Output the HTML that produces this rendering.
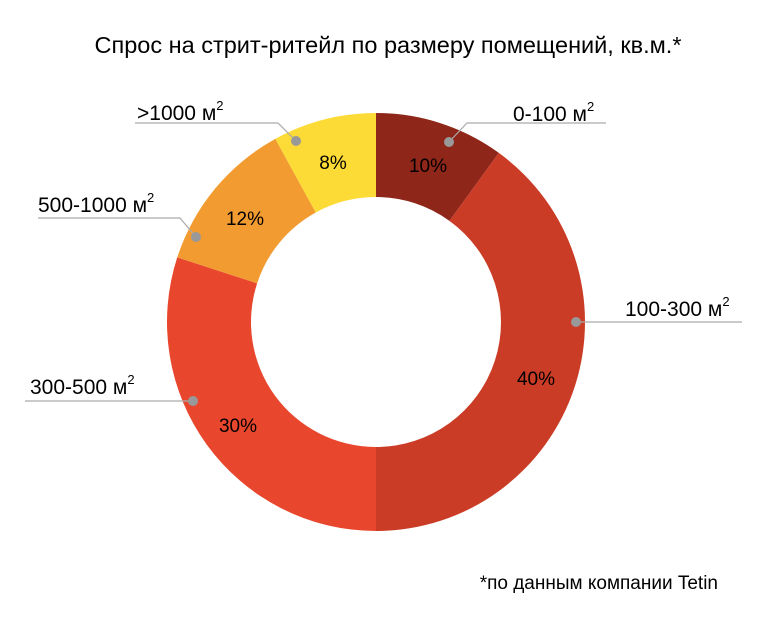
<!DOCTYPE html><html><head><meta charset="utf-8"><style>body{margin:0;background:#fff}svg{display:block}text{font-family:"Liberation Sans",sans-serif;fill:#000}</style></head><body>
<svg id="s" width="778" height="621" viewBox="0 0 778 621">
<text x="388" y="53" font-size="23.5" text-anchor="middle">Спрос на стрит-ритейл по размеру помещений, кв.м.*</text>
<g id="d"></g>
<g stroke="#aaa" stroke-width="1.2" fill="none">
<polyline points="449,142 467,123 606,123"/>
<polyline points="576,322 742,322"/>
<polyline points="193,401 25,401"/>
<polyline points="196,237 180,218 38,218"/>
<polyline points="296,141 278,123 135,123"/>
</g>
<g fill="#999"><circle cx="449" cy="142" r="5"/><circle cx="576" cy="322" r="5"/><circle cx="193" cy="401" r="5"/><circle cx="196" cy="237" r="5"/><circle cx="296" cy="141" r="5"/></g>
<g font-size="21">
<text x="513" y="121">0-100 м<tspan font-size="13" dy="-10">2</tspan></text>
<text x="625" y="316">100-300 м<tspan font-size="13" dy="-10">2</tspan></text>
<text x="30" y="394">300-500 м<tspan font-size="13" dy="-10">2</tspan></text>
<text x="38" y="212">500-1000 м<tspan font-size="13" dy="-10">2</tspan></text>
<text x="137" y="120">&gt;1000 м<tspan font-size="13" dy="-10">2</tspan></text>
</g>
<g font-size="19" text-anchor="middle">
<text x="428" y="172">10%</text><text x="536" y="385">40%</text><text x="238" y="432">30%</text><text x="245" y="225">12%</text><text x="333" y="169">8%</text>
</g>
<text x="718" y="589" font-size="19" text-anchor="end">*по данным компании Tetin</text>
</svg>
<script>
var cx=376,cy=322,R=209,r=125,segs=[[0,36,"#8E2619"],[36,180,"#CB3C26"],[180,288,"#E8462D"],[288,331.2,"#F29B31"],[331.2,360,"#FDDB36"]],h="";
function p(a,rr){a=a*Math.PI/180;return [(cx+rr*Math.sin(a)).toFixed(2),(cy-rr*Math.cos(a)).toFixed(2)]}
segs.forEach(function(s){var a=p(s[0],R),b=p(s[1],R),c=p(s[1],r),d=p(s[0],r),l=(s[1]-s[0])>180?1:0;
h+='<path fill="'+s[2]+'" d="M'+a+' A'+R+' '+R+' 0 '+l+' 1 '+b+' L'+c+' A'+r+' '+r+' 0 '+l+' 0 '+d+' Z"/>';});
document.getElementById("d").innerHTML=h;
</script>
</body></html>
